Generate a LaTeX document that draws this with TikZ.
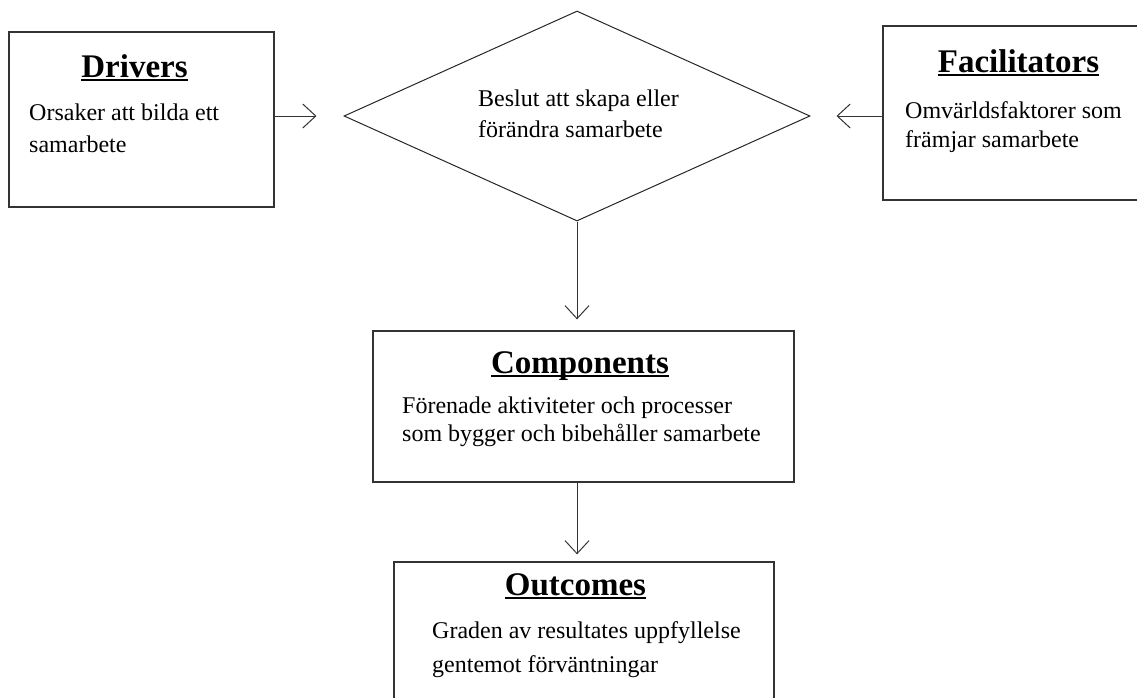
\documentclass[tikz,border=0pt]{standalone}
\usepackage{fontspec}
\setmainfont{Liberation Serif}
\usetikzlibrary{positioning,shapes.geometric,arrows.meta}

% underlined heading with a heavier rule
\newcommand{\headline}[1]{\sbox0{#1}\rlap{\usebox0}\rule[-4.4pt]{\wd0}{2.6pt}}

\begin{document}
\begin{tikzpicture}[x=1pt,y=-1pt,
        box/.style={rectangle, draw=black!80, line width=1.3pt, inner sep=0pt},
        head/.style={font=\fontsize{33}{36}\selectfont\bfseries, inner sep=0pt, anchor=base},
        body/.style={font=\fontsize{24}{32}\selectfont, align=left, inner sep=0pt, anchor=base west},
        link/.style={-{Straight Barb[length=13pt,width=24pt]}, line width=1pt, draw=black!80}
        ]
        \useasboundingbox (0,0) rectangle (1137,697);
        \clip (0,0) rectangle (1137,697);

        % boxes
        \node [box, minimum width=265pt, minimum height=175pt] (drv) at (141.5,119.5) {};
        \node [box, minimum width=277pt, minimum height=174pt] (fac) at (1021.5,113) {};
        \node [box, minimum width=421pt, minimum height=151pt] (cmp) at (583.5,406.5) {};
        \node [box, minimum width=380pt, minimum height=160pt] (otc) at (584,642) {};
        \node [diamond, draw=black!85, line width=1pt, aspect=2.2, inner sep=0pt,
               minimum width=466pt, minimum height=210pt] (dec) at (577,116) {};

        % texts (base = last line)
        \node [head] (drv-head) at (134.5,77) {\headline{Drivers}};
        \node [body] (drv-text) at (29,152) {Orsaker att bilda ett\\samarbete};
        \node [body, font=\fontsize{24}{31}\selectfont] (dec-text) at (478,137) {Beslut att skapa eller\\förändra samarbete};
        \node [head] (fac-head) at (1018.5,72) {\headline{Facilitators}};
        \node [body, font=\fontsize{24}{29}\selectfont] (fac-text) at (905,147) {Omvärldsfaktorer som\\främjar samarbete};
        \node [head] (cmp-head) at (580,373) {\headline{Components}};
        \node [body, font=\fontsize{24}{28}\selectfont] (cmp-text) at (402,441) {Förenade aktiviteter och processer\\som bygger och bibehåller samarbete};
        \node [head] (otc-head) at (575.5,595) {\headline{Outcomes}};
        \node [body, font=\fontsize{24}{34}\selectfont] (otc-text) at (432,672) {Graden av resultates uppfyllelse\\gentemot förväntningar};

        % arrows
        \draw [link, shorten >=27pt] (drv.east |- dec.west) -- (dec.west);
        \draw [link, shorten >=26pt] (fac.west |- dec.east) -- (dec.east);
        \draw [link, shorten >=11pt] (dec.south) -- (dec.south |- cmp.north);
        \draw [link, shorten >=7pt] (dec.south |- cmp.south) -- (dec.south |- otc.north);
\end{tikzpicture}
\end{document}
